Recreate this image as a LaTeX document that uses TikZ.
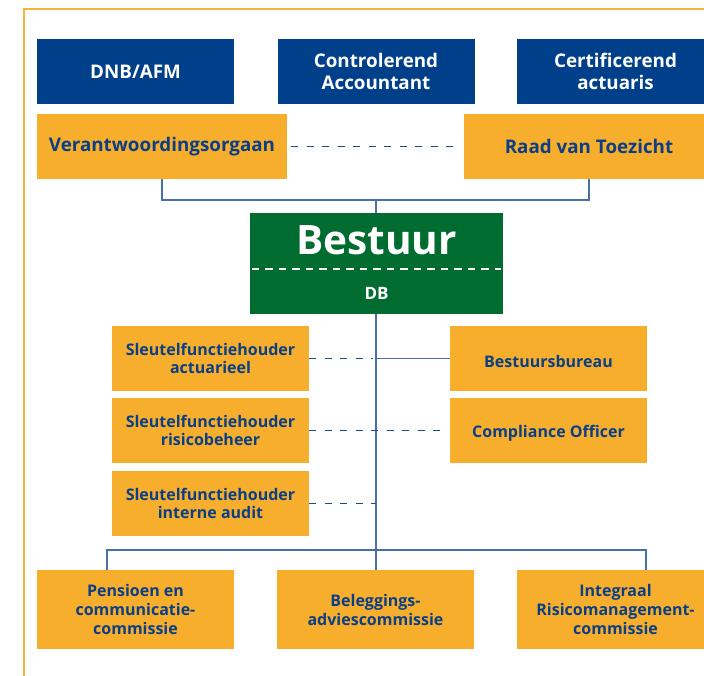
\documentclass[tikz,border=0pt]{standalone}
\usepackage{fontspec}
\setmainfont{Open Sans}
\usetikzlibrary{calc}
\definecolor{nblue}{HTML}{00408A}
\definecolor{nor}{HTML}{F8AE2D}
\definecolor{ngreen}{HTML}{006C2F}
\definecolor{ntext}{HTML}{0A3F86}
\definecolor{nline}{HTML}{4670AA}
\definecolor{ndash}{HTML}{1E4A8B}
\definecolor{nframe}{HTML}{F7B23A}
\newcommand{\lowtxt}[1]{\raisebox{-2.5pt}[\height][\depth]{#1}}
\begin{document}
\begin{tikzpicture}[x=1pt,y=-1pt,
 nbox/.style={rectangle, inner sep=0pt, align=center, font=\bfseries\fontsize{16}{18.5}\selectfont},
 bluebox/.style={nbox, fill=nblue, text=white, minimum width=197pt, minimum height=65pt, font=\bfseries\fontsize{18.8}{22}\selectfont},
 topor/.style={nbox, fill=nor, text=ntext, minimum width=250pt, minimum height=65pt, font=\bfseries\fontsize{18.8}{22}\selectfont},
 sidebox/.style={nbox, fill=nor, text=ntext, minimum width=197pt, minimum height=65pt},
 combox/.style={nbox, fill=nor, text=ntext, minimum width=197pt, minimum height=79pt, font=\bfseries\fontsize{16}{19}\selectfont},
 conn/.style={draw=nline, line width=1.5pt},
 dconn/.style={draw=ndash, line width=1.3pt, dash pattern=on 7pt off 8.5pt},
]
\useasboundingbox (0,0) rectangle (704,676);
\clip (0,0) rectangle (704,676);
\draw[nframe, line width=1.2pt] (24,690) -- (24,9) -- (720,9);

\node[bluebox] (dnb) at (135.5,71.5) {DNB/AFM};
\node[bluebox] (ca) at (376,71.5) {Controlerend\\Accountant};
\node[bluebox] (cert) at (615.5,71.5) {Certificerend\\actuaris};
\node[topor] (vo) at (162,146.5) {Verantwoordingsorgaan};
\node[topor] (rvt) at (589,146.5) {Raad van Toezicht};

\node[fill=ngreen, minimum width=253pt, minimum height=101pt, inner sep=0pt] (bestuur) at (376.5,263.5) {};
\node[anchor=base, text=white, inner sep=0pt, font=\bfseries\fontsize{40.5}{40.5}\selectfont] (bt) at (376.5,255) {Bestuur};
\node[anchor=base, text=white, inner sep=0pt, font=\bfseries\fontsize{17}{17}\selectfont] (db) at (376.5,299) {DB};
\coordinate (dl) at ($(bestuur.west)+(2,5.5)$);
\coordinate (dr) at ($(bestuur.east)+(-2,5.5)$);
\draw[white, line width=1.2pt, dash pattern=on 7.3pt off 6.2pt] (dl) -- (dr);

\node[sidebox] (s1) at (210.5,358.5) {Sleutelfunctiehouder\\actuarieel};
\node[sidebox] (s2) at (210.5,430.5) {Sleutelfunctiehouder\\risicobeheer};
\node[sidebox] (s3) at (210.5,503.5) {Sleutelfunctiehouder\\interne audit};
\node[sidebox] (bb) at (548.5,358.5) {\lowtxt{Bestuursbureau}};
\node[sidebox] (co) at (548.5,430.5) {\lowtxt{Compliance Officer}};

\node[combox] (pc) at (135.5,609.5) {Pensioen en\\communicatie-\\commissie};
\node[combox] (bac) at (375.5,609.5) {Beleggings-\\adviescommissie};
\node[combox] (irc) at (615.5,609.5) {Integraal\\Risicomanagement-\\commissie};

\coordinate (jt) at (376,200);
\coordinate (jb) at (376,550);
\coordinate (jl) at (107,550);
\coordinate (jr) at (646,550);
\coordinate (c1) at (373,358.5);
\coordinate (c3) at (376,503.5);

\draw[conn] (vo.south) |- (jt) -| (rvt.south);
\draw[conn] (jt) -- (jt |- bestuur.north);
\draw[conn] (jt |- bestuur.south) -- (jb);
\draw[conn] (jl |- pc.north) -- (jl) -- (jr) -- (jr |- irc.north);
\draw[conn] (jb) -- (jb |- bac.north);
\draw[conn] (jt |- bb.west) -- (bb.west);

\draw[dconn, shorten <=4pt, shorten >=5pt] (vo.east) -- (rvt.west);
\draw[dconn] (s1.east) -- (c1);
\draw[dconn, shorten >=4pt] (s2.east) -- (co.west);
\draw[dconn] (s3.east) -- (c3);
\end{tikzpicture}
\end{document}
